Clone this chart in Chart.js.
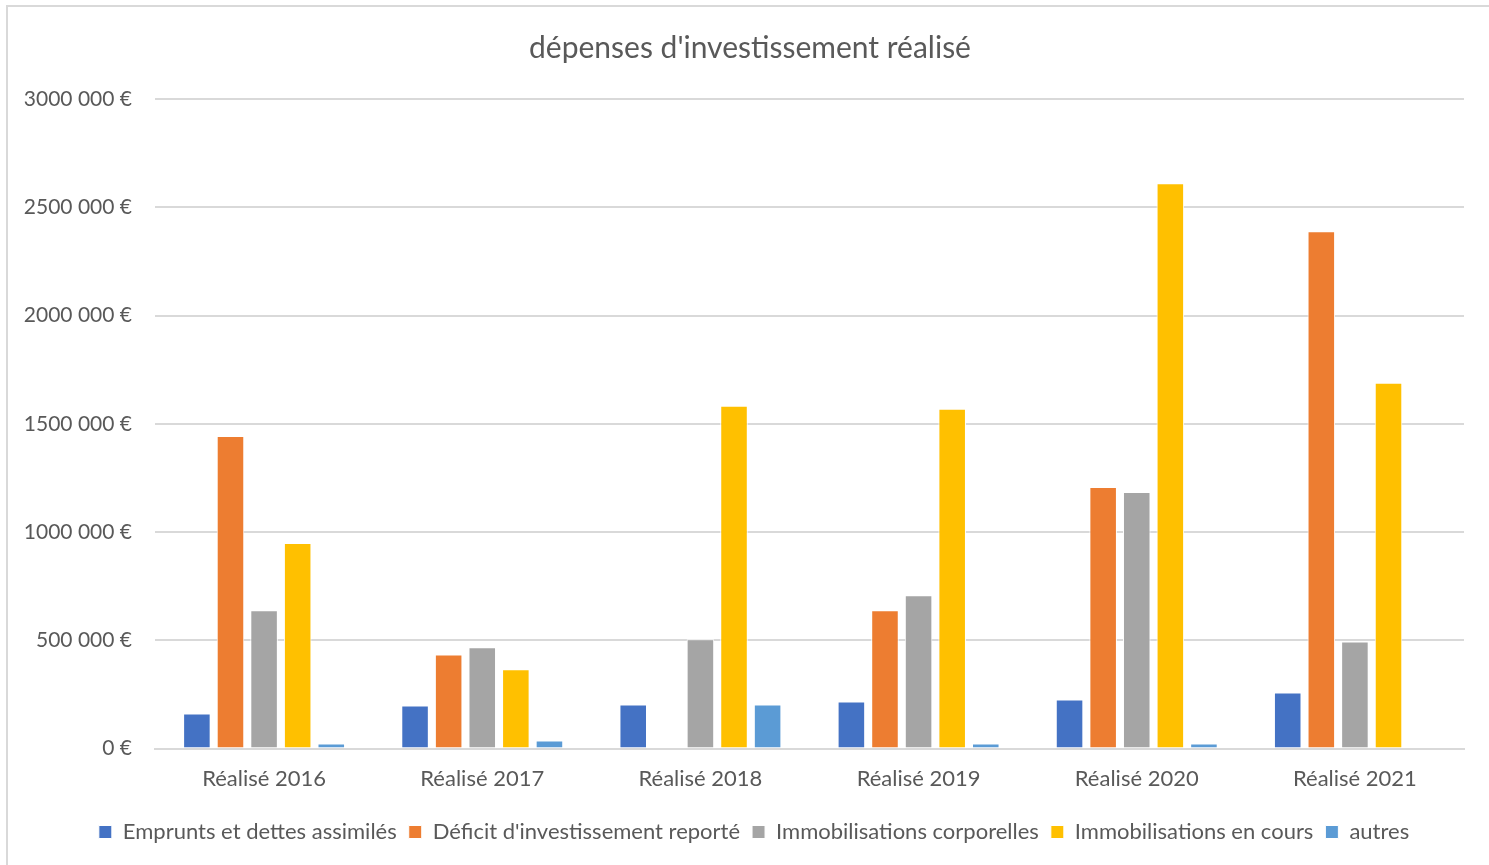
<!DOCTYPE html>
<html>
<head>
<meta charset="utf-8">
<script src="https://cdn.jsdelivr.net/npm/chart.js@4/dist/chart.umd.min.js"></script>
<style>
  body { margin: 0; background: #fff; }
  #wrap { position: absolute; left: 0; top: 0; width: 1489px; height: 865px; }
  #frame { position: absolute; left: 6px; top: 5px; width: 1500px; height: 900px;
           border: 2px solid #d9d9d9; pointer-events: none; }
</style>
</head>
<body>
<div id="wrap"><canvas id="investChart"></canvas></div>
<div id="frame"></div>
<script>
const categories = ['Réalisé 2016', 'Réalisé 2017', 'Réalisé 2018', 'Réalisé 2019', 'Réalisé 2020', 'Réalisé 2021'];
const emprunts = [162000, 199000, 204000, 218000, 227000, 259000];
const deficit = [1444000, 435000, 0, 639000, 1208000, 2389000];
const corporelles = [639000, 468000, 505000, 708000, 1185000, 495000];
const enCours = [949000, 366000, 1583000, 1569000, 2611000, 1690000];
const autres = [23000, 37000, 204000, 23000, 23000, 5000];
const yTicks = [0, 500000, 1000000, 1500000, 2000000, 2500000, 3000000];

const textColor = '#595959';
const fontFamily = 'Lato, "Open Sans", sans-serif';

function ds(label, data, color) {
    return { label: label, data: data, backgroundColor: color, borderColor: '#ffffff', borderWidth: 1 };
}

// center title and legend on the whole frame like Excel does
const recenter = {
    id: 'recenter',
    afterLayout: function (chart) {
        if (chart.titleBlock) chart.titleBlock.left += 36;
        if (chart.legend) {
            chart.legend.left += 22;
            chart.legend.right += 22;
        }
    }
};

const ctx = document.getElementById('investChart').getContext('2d');
new Chart(ctx, {
    type: 'bar',
    data: {
        labels: categories,
        datasets: [
            ds('Emprunts et dettes assimilés', emprunts, '#4472C4'),
            ds("Déficit d'investissement reporté", deficit, '#ED7D31'),
            ds('Immobilisations corporelles', corporelles, '#A5A5A5'),
            ds('Immobilisations en cours', enCours, '#FFC000'),
            ds('autres', autres, '#5B9BD5')
        ]
    },
    plugins: [recenter],
    options: {
        responsive: true,
        maintainAspectRatio: false,
        animation: false,
        categoryPercentage: 0.77,
        barPercentage: 0.82,
        layout: { padding: { left: 0, right: 25, top: 30, bottom: 12 } },
        plugins: {
            title: {
                display: true,
                text: "dépenses d'investissement réalisé",
                color: textColor,
                font: { family: fontFamily, size: 30, weight: 'normal' },
                padding: { top: 0, bottom: 33 }
            },
            legend: {
                position: 'bottom',
                labels: {
                    color: textColor,
                    font: { family: fontFamily, size: 22 },
                    boxWidth: 13,
                    boxHeight: 13,
                    padding: 12
                }
            },
            tooltip: { enabled: false }
        },
        scales: {
            x: {
                grid: { display: false, drawTicks: false },
                border: { display: true, color: '#d9d9d9', width: 2 },
                ticks: { color: textColor, font: { family: fontFamily, size: 22 }, padding: 17 }
            },
            y: {
                min: 0,
                max: 3000000,
                afterFit: function (scale) { scale.width = 155; },
                afterBuildTicks: function (scale) { scale.ticks = yTicks.map(v => ({ value: v })); },
                grid: { color: '#d9d9d9', lineWidth: 2, drawTicks: false },
                border: { display: false },
                ticks: {
                    color: textColor,
                    font: { family: fontFamily, size: 21 },
                    padding: 23,
                    callback: function (v) { return v === 0 ? '0 €' : (v / 1000) + ' 000 €'; }
                }
            }
        }
    }
});
</script>
</body>
</html>
